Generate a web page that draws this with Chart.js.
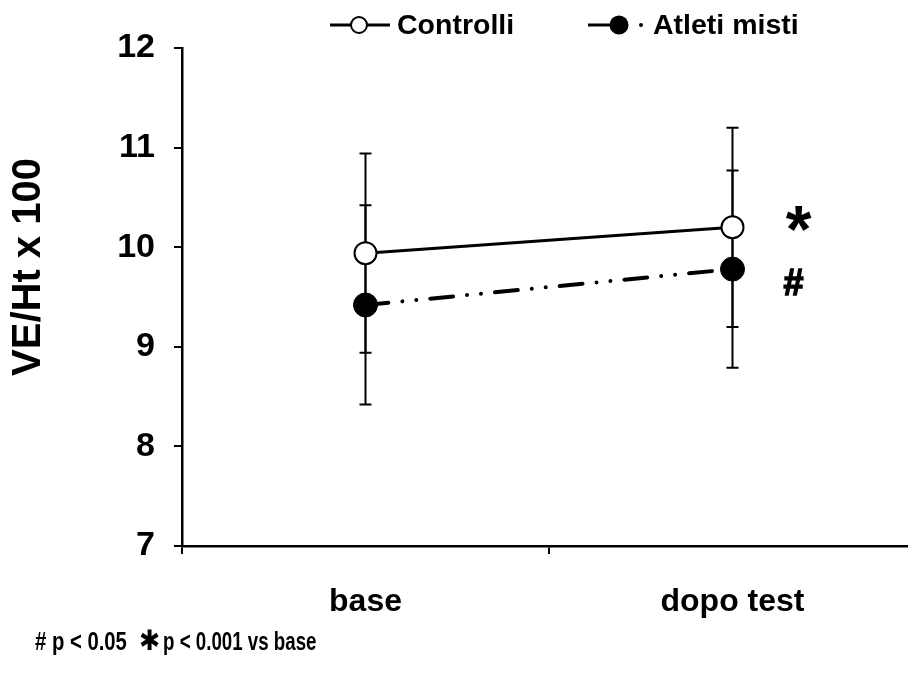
<!DOCTYPE html>
<html>
<head>
<meta charset="utf-8">
<script src="https://cdn.jsdelivr.net/npm/chart.js@4.4.1/dist/chart.umd.min.js"></script>
<style>
  html, body { margin: 0; padding: 0; background: #fff; overflow: hidden; }
  canvas { display: block; }
</style>
</head>
<body>
<canvas id="chart" width="908" height="679"></canvas>
<script>
// ── Data ────────────────────────────────────────────────
const categories = ["base", "dopo test"];
const controlli = [9.94, 10.20];
const controlliErr = [1.0, 1.0];
const atleti = [9.42, 9.78];
const atletiErr = [1.0, 0.99];
const yTicks = [7, 8, 9, 10, 11, 12];

const FONT = "'Liberation Sans', Arial, sans-serif";
Chart.defaults.font.family = FONT;
Chart.defaults.color = "#000";

// the x axis runs on a little past the canvas edge
const stretchX = {
  id: "stretchX",
  afterLayout(chart) {
    const x = chart.scales.x;
    const right = 916;
    x.right = right;
    x.width = right - x.left;
    x.configure();
    chart.chartArea.right = right;
    chart.chartArea.width = right - chart.chartArea.left;
  },
};

// error bars under the markers
const errorBars = {
  id: "errorBars",
  beforeDatasetsDraw(chart) {
    const { ctx, scales: { x, y } } = chart;
    const sets = [[controlli, controlliErr], [atleti, atletiErr]];
    ctx.save();
    ctx.strokeStyle = "#000";
    ctx.lineWidth = 2;
    sets.forEach(([vals, errs]) => {
      vals.forEach((v, i) => {
        const px = x.getPixelForValue(i);
        const top = y.getPixelForValue(v + errs[i]);
        const bot = y.getPixelForValue(v - errs[i]);
        ctx.beginPath();
        ctx.moveTo(px, top); ctx.lineTo(px, bot);
        ctx.moveTo(px - 6, top); ctx.lineTo(px + 6, top);
        ctx.moveTo(px - 6, bot); ctx.lineTo(px + 6, bot);
        ctx.stroke();
      });
    });
    ctx.restore();
  },
};

// condensed text helper (narrow face)
function narrowText(ctx, text, x, y, sx) {
  ctx.save();
  ctx.translate(x, y);
  ctx.scale(sx, 1);
  ctx.fillText(text, 0, 0);
  const w = ctx.measureText(text).width * sx;
  ctx.restore();
  return w;
}

// legend, axis title, significance marks and footnote
const decorations = {
  id: "decorations",
  afterDraw(chart) {
    const { ctx, scales: { x, y } } = chart;
    ctx.save();
    ctx.fillStyle = "#000";
    ctx.strokeStyle = "#000";

    // y axis title
    ctx.save();
    ctx.translate(29, 267);
    ctx.rotate(-Math.PI / 2);
    ctx.font = `bold 40px ${FONT}`;
    ctx.textAlign = "center";
    ctx.textBaseline = "middle";
    ctx.fillText("VE/Ht x 100", 0, 0);
    ctx.restore();

    // legend
    const ly = 25;
    ctx.lineWidth = 3;
    ctx.beginPath(); ctx.moveTo(330, ly); ctx.lineTo(390, ly); ctx.stroke();
    ctx.beginPath(); ctx.arc(359, ly, 8, 0, Math.PI * 2);
    ctx.fillStyle = "#fff"; ctx.fill();
    ctx.lineWidth = 2; ctx.stroke();
    ctx.fillStyle = "#000";
    ctx.lineWidth = 3;
    ctx.beginPath(); ctx.moveTo(588, ly); ctx.lineTo(615, ly); ctx.stroke();
    ctx.beginPath(); ctx.arc(619, ly, 9.5, 0, Math.PI * 2); ctx.fill();
    ctx.beginPath(); ctx.arc(641, ly, 2, 0, Math.PI * 2); ctx.fill();
    ctx.font = `bold 28.5px ${FONT}`;
    ctx.textBaseline = "middle";
    ctx.textAlign = "left";
    ctx.fillText("Controlli", 397, ly + 1);
    ctx.fillText("Atleti misti", 653, ly + 1);

    // significance marks beside the "dopo test" points
    const dx = x.getPixelForValue(1);
    ctx.textAlign = "center";
    ctx.textBaseline = "alphabetic";
    ctx.font = `bold 66px ${FONT}`;
    ctx.fillText("*", dx + 66, y.getPixelForValue(controlli[1]) + 25);
    ctx.font = `bold 36px ${FONT}`;
    ctx.lineWidth = 1.4;
    const hy = y.getPixelForValue(atleti[1]) + 26;
    ctx.fillText("#", dx + 61, hy);
    ctx.strokeText("#", dx + 61, hy);

    // footnote
    ctx.textAlign = "left";
    ctx.textBaseline = "alphabetic";
    const fy = 650;
    let fx = 35;
    ctx.font = `bold 26px ${FONT}`;
    fx += narrowText(ctx, "# p < 0.05", fx, fy, 0.78) + 12;
    ctx.font = `bold 28px 'DejaVu Sans', sans-serif`;
    fx += narrowText(ctx, "\u2731", fx, fy, 0.9) + 3;
    ctx.font = `bold 26px ${FONT}`;
    narrowText(ctx, "p < 0.001 vs base", fx, fy, 0.72);
    ctx.restore();
  },
};

new Chart(document.getElementById("chart"), {
  type: "line",
  data: {
    labels: categories,
    datasets: [
      {
        label: "Controlli",
        data: controlli,
        borderColor: "#000",
        borderWidth: 3,
        pointRadius: 11,
        pointBackgroundColor: "#fff",
        pointBorderColor: "#000",
        pointBorderWidth: 2,
        tension: 0,
      },
      {
        label: "Atleti misti",
        data: atleti,
        borderColor: "#000",
        borderWidth: 4,
        borderDash: [23, 14, 0.01, 14, 0.01, 14],
        borderCapStyle: "round",
        pointRadius: 12,
        pointBackgroundColor: "#000",
        pointBorderColor: "#000",
        pointBorderWidth: 1,
        tension: 0,
      },
    ],
  },
  options: {
    responsive: false,
    animation: false,
    devicePixelRatio: 1,
    layout: { padding: { top: 48, right: 2, left: 0, bottom: 0 } },
    plugins: {
      legend: { display: false },
      tooltip: { enabled: false },
    },
    scales: {
      x: {
        offset: true,
        grid: { drawOnChartArea: false, drawTicks: true, tickLength: 8, color: "#000", lineWidth: 2, offset: true },
        border: { display: true, color: "#000", width: 2.5 },
        ticks: { font: { size: 32, weight: "bold" }, color: "#000", padding: 29, maxRotation: 0 },
        afterFit: (s) => { s.height = 133; },
      },
      y: {
        min: 7,
        max: 12,
        afterBuildTicks: (s) => { s.ticks = yTicks.map((v) => ({ value: v })); },
        grid: { drawOnChartArea: false, drawTicks: true, tickLength: 8, color: "#000", lineWidth: 2 },
        border: { display: true, color: "#000", width: 2.5 },
        ticks: { font: { size: 34, weight: "bold" }, color: "#000", padding: 19 },
        afterFit: (s) => { s.width = 182; },
      },
    },
  },
  plugins: [stretchX, errorBars, decorations],
});
</script>
</body>
</html>
